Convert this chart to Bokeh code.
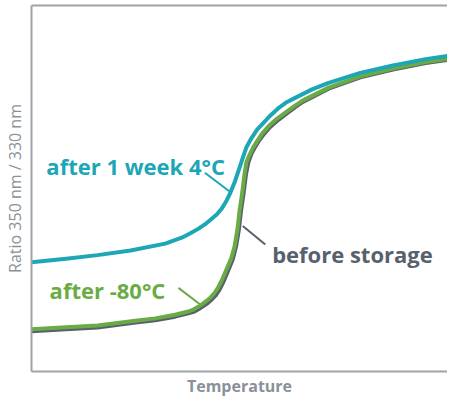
from bokeh.plotting import figure
from bokeh.models import Range1d, LinearAxis, FixedTicker, Label
from bokeh.embed import file_html
from bokeh.resources import INLINE

# ---- data (Temperature vs. ratio 350/330 nm) ----
temp_4c = [20.0, 26.13, 31.69, 37.52, 43.66, 46.58, 48.04, 49.49, 50.67, 51.84, 52.77,
           53.59, 54.35, 55.05, 55.92, 56.62, 57.32, 58.03, 58.90, 59.95, 60.88, 62.23,
           63.81, 65.21, 66.73, 69.64, 72.57, 78.18, 83.96, 89.74, 95.0]
ratio_4c = [0.752, 0.7567, 0.7617, 0.768, 0.7773, 0.7853, 0.7909, 0.7973, 0.8033, 0.8107,
            0.8167, 0.824, 0.8333, 0.844, 0.860, 0.876, 0.892, 0.908, 0.920, 0.932,
            0.9396, 0.9507, 0.9617, 0.9693, 0.9751, 0.9863, 0.9951, 1.0087, 1.0187,
            1.0273, 1.0333]

temp_m80 = [20.0, 26.13, 31.69, 38.40, 41.90, 45.41, 47.74, 48.65, 49.49, 50.23, 50.96,
            51.72, 52.42, 53.03, 53.59, 54.47, 55.34, 55.92, 56.45, 56.80, 57.24, 57.67,
            58.03, 58.55, 59.25, 60.01, 60.83, 62.06, 63.46, 64.98, 66.44, 67.89, 72.57,
            78.18, 83.96, 89.74, 95.0]
ratio_m80 = [0.6613, 0.664, 0.6663, 0.6729, 0.676, 0.6809, 0.6853, 0.688, 0.6916, 0.6953,
             0.6996, 0.7047, 0.7107, 0.718, 0.7263, 0.7417, 0.7573, 0.7733, 0.7973, 0.8213,
             0.844, 0.8707, 0.888, 0.8973, 0.908, 0.9173, 0.9267, 0.9373, 0.9467, 0.9551,
             0.9633, 0.9707, 0.9887, 1.004, 1.0147, 1.0233, 1.0293]

temp_before = [20.0, 26.13, 31.69, 38.40, 41.90, 45.41, 47.74, 48.83, 49.61, 50.40, 51.19,
               51.94, 52.68, 53.29, 53.87, 54.75, 55.62, 56.19, 56.71, 57.06, 57.50, 57.94,
               58.38, 58.90, 59.60, 60.30, 61.09, 62.23, 63.63, 65.12, 66.61, 68.01, 72.57,
               78.18, 83.96, 89.74, 95.0]
ratio_before = [0.6587, 0.6613, 0.6636, 0.6703, 0.6733, 0.6783, 0.6827, 0.6853, 0.6887,
                0.6927, 0.6967, 0.702, 0.708, 0.7153, 0.724, 0.740, 0.756, 0.7733, 0.7973,
                0.8213, 0.844, 0.8707, 0.888, 0.8987, 0.9087, 0.9173, 0.9253, 0.9353,
                0.9447, 0.9533, 0.962, 0.9693, 0.9873, 1.0027, 1.0133, 1.022, 1.028]

series_names = ["before storage", "after -80°C", "after 1 week 4°C"]

# ---- styles ----
TEAL = "#1ca6b6"
GREEN = "#6aab45"
GRAY = "#57616c"
AXIS = "#9ea3a8"
AXIS_TEXT = "#8a9198"
FONT = "Open Sans"

p = figure(width=447, height=399, output_backend="svg", toolbar_location=None,
           x_range=Range1d(20, 93.6), y_range=Range1d(0.604, 1.1),
           min_border_left=27, min_border_right=0, min_border_top=5, min_border_bottom=22)
p.outline_line_color = None
p.xgrid.visible = False
p.ygrid.visible = False
p.background_fill_color = "white"
p.border_fill_color = "white"

for ax in (p.xaxis[0], p.yaxis[0]):
    ax.ticker = FixedTicker(ticks=[])
    ax.major_label_text_font_size = "0px"
    ax.major_tick_out = 0
    ax.major_tick_in = 0
    ax.minor_tick_out = 0
    ax.minor_tick_in = 0
    ax.major_label_standoff = 0
    ax.axis_line_color = AXIS
    ax.axis_line_width = 2
    ax.axis_label_text_font = FONT
    ax.axis_label_text_color = AXIS_TEXT
    ax.axis_label_text_font_size = "16px"

p.xaxis.axis_label = "Temperature"
p.xaxis.axis_label_text_font_style = "bold"
p.xaxis.axis_label_standoff = 3
p.yaxis.axis_label = "Ratio 350 nm / 330 nm"
p.yaxis.axis_label_text_font_style = "normal"
p.yaxis.axis_label_standoff = 6

top = LinearAxis(ticker=FixedTicker(ticks=[]), major_label_text_font_size="0px",
                 major_tick_out=0, major_tick_in=0, minor_tick_out=0, minor_tick_in=0,
                 major_label_standoff=0, axis_line_color=AXIS, axis_line_width=2)
p.add_layout(top, "above")

p.line(temp_before, ratio_before, line_color=GRAY, line_width=4, line_join="round", line_cap="round")
p.line(temp_m80, ratio_m80, line_color=GREEN, line_width=4, line_join="round", line_cap="round")
p.line(temp_4c, ratio_4c, line_color=TEAL, line_width=4, line_join="round", line_cap="round")

# leader lines
p.segment(x0=[50.67], y0=[0.8733], x1=[55.05], y1=[0.848], line_color=TEAL, line_width=2)
p.segment(x0=[57.38], y0=[0.8013], x1=[61.36], y1=[0.776], line_color=GRAY, line_width=2)
p.segment(x0=[46.0], y0=[0.7173], x1=[49.85], y1=[0.6947], line_color=GREEN, line_width=2)

for txt, x, y, c in [(series_names[2], 22.63, 0.8827, TEAL),
                     (series_names[0], 62.58, 0.7627, GRAY),
                     (series_names[1], 23.2, 0.7143, GREEN)]:
    p.add_layout(Label(x=x, y=y, text=txt, text_color=c, text_font=FONT,
                       text_font_style="bold", text_font_size="22px",
                       text_baseline="alphabetic", text_align="left"))

open("out.html", "w").write(file_html(p, INLINE))
